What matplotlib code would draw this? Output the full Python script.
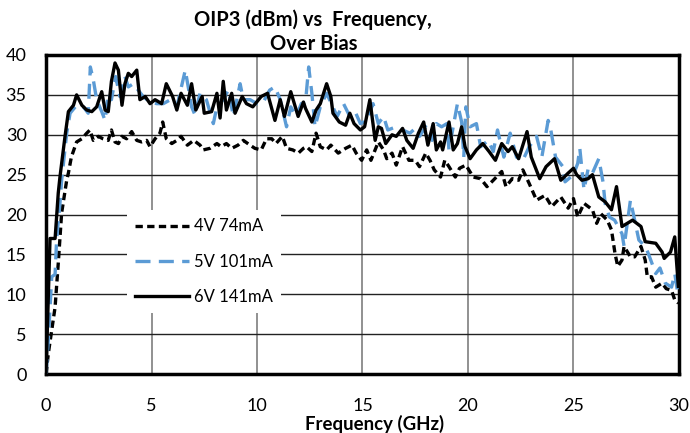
import matplotlib.pyplot as plt

# 4V 74mA (black dashed)
f_4v = [0, 0.11, 0.43, 0.58, 0.74, 0.98, 1.06, 1.2, 1.45, 1.7, 1.93, 2.08, 2.24, 2.48, 2.7, 2.95, 3.1, 3.27, 3.43, 3.6, 3.82,
        4.06, 4.3, 4.53, 4.77, 4.93, 5.17, 5.4, 5.53, 5.7, 5.96, 6.2, 6.4, 6.7, 7.0, 7.3, 7.45, 7.77, 8.1, 8.3, 8.55,
        8.8, 9.1, 9.35, 9.67, 9.9, 10.2, 10.45, 10.7, 10.9, 11.2, 11.4, 11.7, 11.96, 12.2, 12.35, 12.6, 12.8, 13.0,
        13.3, 13.5, 13.85, 14.2, 14.5, 14.7, 14.96, 15.2, 15.4, 15.75, 16.0, 16.15, 16.4, 16.6, 16.9, 17.2, 17.5,
        17.7, 18.0, 18.2, 18.4, 18.7, 18.9, 19.1, 19.4, 19.6, 19.9, 20.25, 20.6, 20.9, 21.2, 21.6, 21.8, 22.1, 22.4,
        22.6, 22.9, 23.25, 23.65, 23.97, 24.4, 24.75, 25.0, 25.2, 25.5, 25.9, 26.1, 26.3, 26.6, 26.8, 26.97, 27.1,
        27.3, 27.4, 27.7, 27.9, 28.2, 28.4, 28.5, 28.7, 28.9, 29.2, 29.4, 29.65, 29.8, 29.97]
v_4v = [0, 2.6, 8.4, 13.9, 20.2, 24.3, 25.2, 27.2, 29.1, 29.5, 30.2, 30.6, 29.3, 29.8, 29.5, 29.3, 30.6, 29.1, 28.9, 29.8, 29.5,
        30.4, 29.3, 29.1, 29.3, 28.5, 29.5, 30.2, 31.6, 29.5, 28.9, 29.3, 29.8, 28.7, 29.3, 28.7, 28.1, 28.3, 28.9, 28.5, 28.9,
        28.3, 28.7, 29.3, 28.7, 28.3, 28.1, 29.5, 29.5, 28.9, 29.8, 28.3, 28.1, 27.7, 28.3, 28.5, 27.9, 30.2, 28.5,
        28.1, 28.7, 27.7, 28.3, 28.7, 27.7, 26.8, 28.1, 26.8, 29.1, 28.1, 27.0, 27.7, 26.2, 28.5, 26.8, 26.8,
        26.0, 27.7, 26.8, 25.6, 24.7, 26.8, 26.0, 24.7, 25.8, 26.2, 24.7, 24.5, 23.5, 24.3, 25.4, 23.5, 24.5, 24.3,
        25.6, 23.9, 21.8, 22.4, 21.0, 22.2, 20.8, 22.0, 19.7, 21.4, 20.6, 18.9, 20.1, 19.3, 18.1, 15.1, 13.5,
        14.3, 16.0, 14.7, 14.7, 16.0, 14.3, 12.2, 12.2, 10.9, 11.4, 10.7, 10.5, 9.3, 8.9]

# 5V 101mA (blue dashed)
f_5v = [0, 0.11, 0.27, 0.43, 0.5, 0.66, 0.74, 0.98, 1.14, 1.45, 1.77, 2.0, 2.1, 2.24, 2.4, 2.64, 2.8, 2.95, 3.1, 3.3, 3.5,
        3.74, 3.9, 4.14, 4.37, 4.6, 4.93, 5.25, 5.56, 5.9, 6.2, 6.6, 6.74, 6.9, 7.06, 7.3, 7.6, 7.93, 8.1, 8.4, 8.64,
        8.88, 9.2, 9.35, 9.67, 10.0, 10.3, 10.6, 10.85, 11.1, 11.4, 11.6, 11.85, 12.1, 12.3, 12.45, 12.6, 12.75, 13.0,
        13.3, 13.8, 14.1, 14.4, 14.65, 14.9, 15.2, 15.5, 15.75, 16.0, 16.2, 16.6, 16.9, 17.25, 17.5, 17.7, 18.0,
        18.3, 18.5, 18.75, 19.0, 19.1, 19.5, 19.7, 19.8, 19.9, 20.1, 20.4, 20.6, 20.96, 21.2, 21.4, 21.7, 22.0,
        22.3, 22.6, 22.9, 23.25, 23.5, 23.8, 23.9, 24.15, 24.5, 24.6, 25.0, 25.2, 25.3, 25.5, 25.7, 25.9, 26.2,
        26.4, 26.5, 26.7, 26.95, 27.3, 27.4, 27.7, 27.9, 28.1, 28.4, 28.55, 28.9, 29.1, 29.35, 29.65, 29.8, 29.97]
v_5v = [0, 4.3, 12.2, 12.5, 16.8, 21.4, 24.3, 30.2, 32.7, 33.7, 33.5, 32.7, 38.5, 36.9, 34.4, 32.9, 31.8, 35.2, 34.4, 37.3, 34.8,
        37.3, 36.0, 36.4, 35.6, 34.8, 34.1, 33.9, 33.9, 34.4, 33.5, 38.1, 36.0, 33.5, 32.5, 35.2, 34.4, 31.4, 33.5, 34.4, 35.6,
        32.3, 36.4, 34.4, 34.4, 33.9, 34.1, 35.6, 36.0, 34.4, 31.0, 33.5, 32.3, 33.9, 34.1, 38.5, 35.2, 31.0, 33.5,
        35.2, 32.3, 33.9, 32.3, 32.9, 31.4, 31.8, 33.9, 31.4, 32.3, 30.6, 31.0, 30.6, 30.2, 30.8, 29.8, 31.0,
        29.3, 31.4, 31.0, 31.4, 28.1, 33.9, 31.6, 27.2, 33.5, 31.0, 31.4, 28.5, 29.3, 27.9, 30.6, 27.2, 30.2,
        27.2, 26.8, 28.5, 29.8, 27.2, 31.8, 31.0, 27.2, 26.0, 24.1, 25.0, 26.4, 28.3, 23.1, 25.8, 25.2, 27.0,
        24.1, 21.4, 19.7, 19.3, 17.6, 16.0, 21.8, 19.3, 16.8, 16.0, 15.1, 12.6, 13.3, 11.4, 10.9, 12.6, 9.7]

# 6V 141mA (black solid)
f_6v = [0, 0.19, 0.43, 0.58, 0.66, 0.9, 1.06, 1.3, 1.45, 1.7, 1.93, 2.17, 2.4, 2.64, 2.8, 2.95, 3.1, 3.27, 3.43, 3.6, 3.74,
        3.9, 4.06, 4.3, 4.45, 4.7, 4.93, 5.17, 5.48, 5.7, 6.0, 6.2, 6.4, 6.7, 6.9, 7.1, 7.4, 7.5, 7.85, 8.1, 8.25,
        8.4, 8.55, 8.8, 8.96, 9.3, 9.5, 9.8, 10.2, 10.5, 10.85, 11.1, 11.3, 11.6, 11.95, 12.2, 12.3, 12.6, 12.8,
        13.0, 13.3, 13.5, 13.6, 13.9, 14.2, 14.4, 14.6, 14.9, 15.1, 15.35, 15.6, 15.75, 15.9, 16.1, 16.4, 16.6,
        16.9, 17.1, 17.4, 17.65, 17.9, 18.1, 18.35, 18.5, 18.7, 18.8, 19.1, 19.3, 19.5, 19.7, 19.86, 20.1, 20.4,
        20.7, 21.0, 21.3, 21.6, 21.9, 22.1, 22.4, 22.8, 23.0, 23.4, 23.7, 24.1, 24.4, 24.75, 25.0, 25.15, 25.4,
        25.7, 25.9, 26.2, 26.5, 26.8, 27.04, 27.3, 27.8, 28.2, 28.4, 28.9, 29.2, 29.3, 29.6, 29.8, 29.97]
v_6v = [0, 17.0, 17.0, 22.7, 24.7, 29.8, 32.9, 33.7, 35.0, 33.7, 33.1, 32.9, 33.5, 35.4, 33.1, 32.9, 36.7, 39.0, 38.1, 33.7, 36.4,
        37.7, 37.3, 38.1, 34.4, 34.8, 33.9, 34.4, 33.9, 36.4, 34.8, 33.1, 35.2, 33.7, 36.4, 33.1, 34.8, 32.7, 32.9, 35.2, 32.1,
        36.7, 33.1, 35.2, 32.7, 34.8, 33.9, 33.5, 34.8, 35.2, 31.8, 34.4, 32.3, 35.4, 32.3, 34.1, 33.3, 31.6, 33.1,
        33.9, 36.4, 34.8, 32.7, 31.6, 31.2, 32.7, 31.4, 30.6, 31.0, 34.4, 29.3, 31.0, 30.8, 28.9, 30.0, 29.8,
        30.8, 29.3, 28.3, 30.2, 31.6, 28.7, 31.4, 28.1, 29.1, 28.1, 31.6, 28.1, 28.9, 31.0, 28.5, 27.0, 28.1,
        28.9, 27.9, 26.8, 28.9, 27.9, 28.5, 27.0, 30.4, 27.2, 24.5, 26.0, 27.0, 24.3, 25.2, 25.8, 25.0, 24.3,
        24.5, 25.0, 22.2, 21.6, 20.6, 23.5, 18.5, 19.3, 18.5, 16.6, 16.4, 15.3, 14.5, 15.3, 17.2, 11.0]

labels = ["4V 74mA", "5V 101mA", "6V 141mA"]

plt.rcParams["font.family"] = ["Lato", "DejaVu Sans"]

fig = plt.figure(figsize=(6.9, 4.33), dpi=100)
ax = fig.add_axes([0.0667, 0.136, 0.9173, 0.737])

ax.plot(f_4v, v_4v, color="black", lw=2.4, ls=(0, (2.2, 1.3)), label=labels[0], zorder=3,
        dash_joinstyle="round", dash_capstyle="butt")
ax.plot(f_5v, v_5v, color="#5B9BD5", lw=2.4, ls=(0, (4.5, 2.5)), label=labels[1], zorder=3,
        dash_joinstyle="round")
ax.plot(f_6v, v_6v, color="black", lw=2.4, ls="-", label=labels[2], zorder=4,
        solid_joinstyle="round")

ax.set_xlim(0, 30)
ax.set_ylim(0, 40)
ax.set_xticks(range(0, 31, 5))
ax.set_yticks(range(0, 41, 5))
ax.tick_params(length=0, labelsize=13)
ax.tick_params(axis="x", pad=17)
ax.tick_params(axis="y", pad=14)
ax.xaxis.grid(True, color="#888888", lw=1.3)
ax.yaxis.grid(True, color="#222222", lw=1.0)
ax.set_axisbelow(True)
for s in ax.spines.values():
    s.set_linewidth(2.5)
    s.set_color("black")

fig.text(0.543, 0.022, "Frequency (GHz)", ha="center", va="center", fontsize=13.4, fontweight="bold")
fig.text(0.454, 0.955, "OIP3 (dBm) vs  Frequency,", ha="center", va="center",
         fontsize=14.5, fontweight="bold")
fig.text(0.454, 0.899, "Over Bias", ha="center", va="center", fontsize=14.5, fontweight="bold")

leg = ax.legend(loc="upper left", bbox_to_anchor=(0.115, 0.54), fontsize=12, frameon=True,
                handlelength=3.2, handletextpad=0.3, labelspacing=1.15, borderpad=0.5)
leg.get_frame().set_facecolor("white")
leg.get_frame().set_edgecolor("none")
leg.get_frame().set_alpha(1)

fig.savefig("out.png", dpi=100)
